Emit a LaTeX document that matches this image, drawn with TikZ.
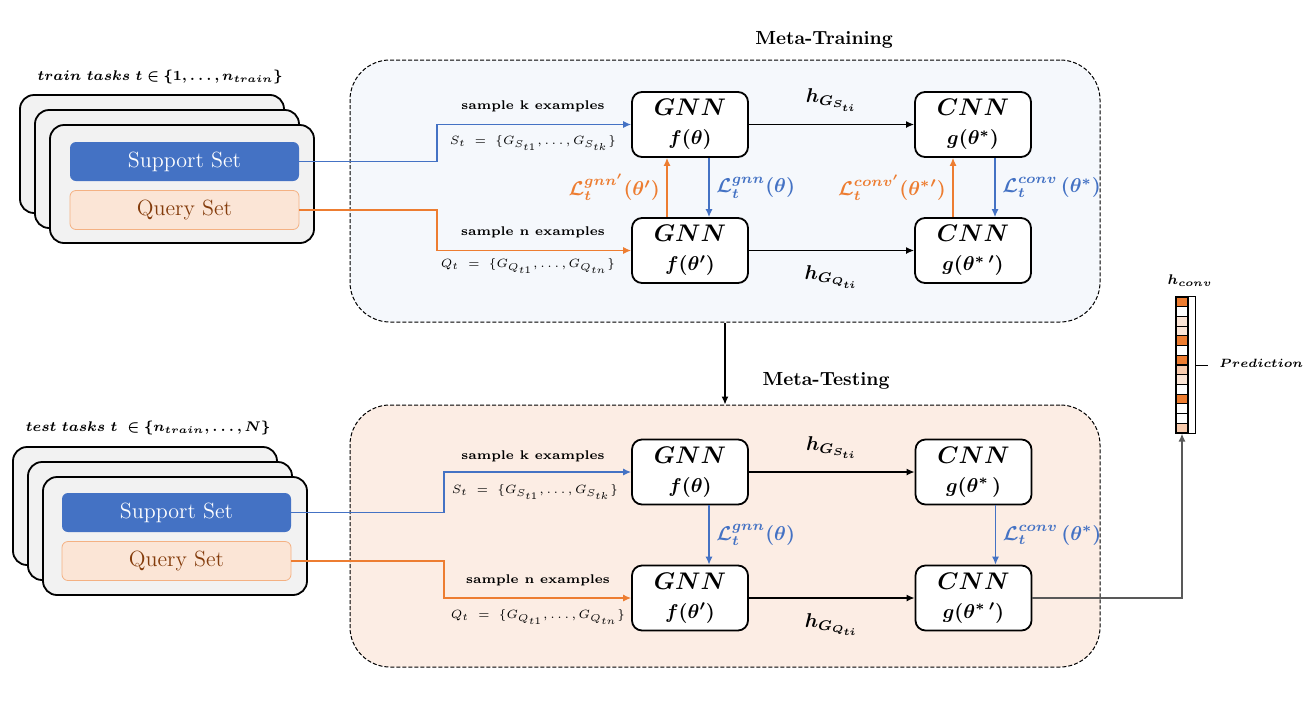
\documentclass[tikz,border=0pt]{standalone}
\usepackage{amsmath,amssymb}
\usepackage{bm}
\usepackage{fontspec}
\usepackage{xcolor}
\usepackage{tikz}
\usetikzlibrary{arrows.meta}
\definecolor{C0}{HTML}{4472C4}
\definecolor{C1}{HTML}{ED7D31}
\definecolor{C1q}{HTML}{FBE5D6}
\definecolor{C1m}{HTML}{F8CBAD}
\definecolor{C1b}{HTML}{F4B183}
\definecolor{C1t}{HTML}{843C0C}
\definecolor{C7}{HTML}{F2F2F2}
\definecolor{C8}{HTML}{595959}
\definecolor{Ctrain}{HTML}{F5F8FC}
\definecolor{Ctest}{HTML}{FCEDE4}
\newcommand{\mdl}[2]{{\fontsize{13}{15}\selectfont$\bm{#1}$}\\[2.5pt]{\fontsize{10}{12}\selectfont$\bm{#2}$}}

\begin{document}
\begin{tikzpicture}[x=0.5pt,y=-0.5pt,
  card/.style={draw, line width=0.9pt, fill=C7, rounded corners=7pt, minimum width=132pt, minimum height=59pt},
  setbox/.style={rounded corners=3pt, minimum width=114.5pt, minimum height=19.5pt, font=\fontsize{11}{13}\selectfont},
  metabox/.style={draw, dash pattern=on 2pt off 1pt, line width=0.5pt, rounded corners=20pt, minimum width=375pt, minimum height=131pt},
  model/.style={draw, line width=0.9pt, fill=white, rounded corners=5pt, minimum width=58pt, minimum height=32.5pt, align=center, inner sep=1pt},
  cell/.style={draw, line width=0.6pt, inner sep=0pt, minimum width=6pt, minimum height=4.86pt},
  title/.style={font=\bfseries\fontsize{9.5}{11}\selectfont},
  sample/.style={font=\bfseries\fontsize{6.3}{7}\selectfont},
  setlabel/.style={font=\fontsize{6}{7}\selectfont},
  loss/.style={font=\fontsize{10}{12}\selectfont},
  tasklabel/.style={font=\fontsize{7}{8}\selectfont},
  bluearrow/.style={-{Latex[length=4pt,width=3.5pt]}, line width=0.6pt, C0},
  orangearrow/.style={-{Latex[length=4pt,width=3.5pt]}, line width=0.6pt, C1},
  blackarrow/.style={-{Latex[length=4pt,width=3.5pt]}, line width=0.7pt}]
\useasboundingbox (0,0) rectangle (1315,702);
%
% meta boxes and titles
\node[metabox, fill=Ctrain] (train) at (725,191) {};
\node[metabox, fill=Ctest] (test) at (725,536) {};
\node[title] (ttrain) at (824,40) {Meta-Training};
\node[title] (ttest) at (826,381) {Meta-Testing};
\draw[blackarrow, line width=0.6pt] (train.south) -- (test.north);
%
% train task stack
\node[card] (trc3) at (152,154) {};
\node[card] (trc2) at (167,169) {};
\node[card] (trc1) at (182,184) {};
\node[setbox, fill=C0, text=white] (sup1) at (184.5,161.5) {Support Set};
\node[setbox, draw=C1b, fill=C1q, text=C1t] (qry1) at (184.5,210) {Query Set};
\node[tasklabel] (tasks1) at (160,77) {$\bm{train\ tasks\ t \in \{1, \ldots, n_{train}\}}$};
%
% test task stack
\node[card] (tec3) at (145,506) {};
\node[card] (tec2) at (160,521) {};
\node[card] (tec1) at (175,536) {};
\node[setbox, fill=C0, text=white] (sup2) at (176.5,512.5) {Support Set};
\node[setbox, draw=C1b, fill=C1q, text=C1t] (qry2) at (176.5,561) {Query Set};
\node[tasklabel] (tasks2) at (148,428) {$\bm{test\ tasks\ t\ \in \{n_{train}, \ldots, N\}}$};
%
% meta-training models
\node[model] (gnn1) at (690,124.5) {\mdl{GNN}{f(\theta)}};
\node[model] (gnn2) at (690,250.5) {\mdl{GNN}{f(\theta')}};
\node[model] (cnn1) at (973,124.5) {\mdl{CNN}{g(\theta^{*})}};
\node[model] (cnn2) at (973,250.5) {\mdl{CNN}{g(\theta^{*}\,')}};
%
% meta-testing models
\node[model] (gnn3) at (690,472) {\mdl{GNN}{f(\theta)}};
\node[model] (gnn4) at (690,598) {\mdl{GNN}{f(\theta')}};
\node[model] (cnn3) at (973.5,472) {\mdl{CNN}{g(\theta^{*}\,)}};
\node[model] (cnn4) at (973.5,598) {\mdl{CNN}{g(\theta^{*}\,')}};
%
% sampling
\coordinate (k1) at (437,0);
\coordinate (k2) at (444,0);
\draw[bluearrow] (sup1.east) -- (sup1.east -| k1) |- (gnn1.west);
\draw[orangearrow] (qry1.east) -- (qry1.east -| k1) |- (gnn2.west);
\draw[bluearrow] (sup2.east) -- (sup2.east -| k2) |- (gnn3.west);
\draw[orangearrow] (qry2.east) -- (qry2.east -| k2) |- (gnn4.west);
\node[sample] (sk1) at (533,106) {sample k examples};
\node[setlabel] (st1) at (533,143) {$S_t\ =\ \{G_{S_{t1}}, \ldots, G_{S_{tk}}\}$};
\node[sample] (sn1) at (533,232) {sample n examples};
\node[setlabel] (qt1) at (528,266) {$Q_t\ =\ \{G_{Q_{t1}}, \ldots, G_{Q_{tn}}\}$};
\node[sample] (sk2) at (533,456) {sample k examples};
\node[setlabel] (st2) at (535,492) {$S_t\ =\ \{G_{S_{t1}}, \ldots, G_{S_{tk}}\}$};
\node[sample] (sn2) at (538,580) {sample n examples};
\node[setlabel] (qt2) at (538,617) {$Q_t\ =\ \{G_{Q_{t1}}, \ldots, G_{Q_{tn}}\}$};
%
% embeddings
\draw[blackarrow] (gnn1) -- (cnn1) node[midway, above=3pt, loss]{$\bm{h_{G_{S_{ti}}}}$};
\draw[blackarrow] (gnn2) -- (cnn2) node[midway, below=4pt, loss]{$\bm{h_{G_{Q_{ti}}}}$};
\draw[blackarrow] (gnn3) -- (cnn3) node[midway, above=3pt, loss]{$\bm{h_{G_{S_{ti}}}}$};
\draw[blackarrow] (gnn4) -- (cnn4) node[midway, below=4pt, loss]{$\bm{h_{G_{Q_{ti}}}}$};
%
% losses
\draw[bluearrow] ([xshift=9.5pt]gnn1.south) -- ([xshift=9.5pt]gnn2.north) node[midway, right, text=C0, loss]{$\bm{\mathcal{L}_t^{gnn}(\theta)}$};
\draw[orangearrow] ([xshift=-11.5pt]gnn2.north) -- ([xshift=-11.5pt]gnn1.south) node[midway, left, text=C1, loss]{$\bm{\mathcal{L}_t^{gnn'}(\theta')}$};
\draw[orangearrow] ([xshift=-10pt]cnn2.north) -- ([xshift=-10pt]cnn1.south) node[midway, left, text=C1, loss]{$\bm{\mathcal{L}_t^{conv'}(\theta^{*}{}')}$};
\draw[bluearrow] ([xshift=11pt]cnn1.south) -- ([xshift=11pt]cnn2.north) node[midway, right, text=C0, loss]{$\bm{\mathcal{L}_t^{conv}\,(\theta^{*})}$};
\draw[bluearrow] ([xshift=9.5pt]gnn3.south) -- ([xshift=9.5pt]gnn4.north) node[midway, right, text=C0, loss]{$\bm{\mathcal{L}_t^{gnn}(\theta)}$};
\draw[bluearrow] ([xshift=11pt]cnn3.south) -- ([xshift=11pt]cnn4.north) node[midway, right, text=C0, loss]{$\bm{\mathcal{L}_t^{conv}\,(\theta^{*})}$};
%
% prediction vector
\foreach \c [count=\i] in {C1,white,C1q,C1q,C1,white,C1,C1m,C1q,white,C1,white,white,C1m}
  \node[cell, fill=\c] (cell\i) at (1182,{297+9.71*(\i-0.5)}) {};
\node[tasklabel] (hconv) at (1190,281) {$\bm{h_{conv}}$};
\draw[line width=0.6pt] (cell1.north east) -| ([xshift=3.5pt]cell14.south east) -- (cell14.south east);
\draw[line width=0.6pt] ([xshift=3.5pt]cell7.south east) -- ++(12,0);
\node[tasklabel, anchor=west, inner sep=0pt, font=\fontsize{6.5}{8}\selectfont] (pred) at (1219,363) {$\bm{Prediction}$};
\draw[blackarrow, C8] (cnn4.east) -| (cell14.south);
\end{tikzpicture}
\end{document}
